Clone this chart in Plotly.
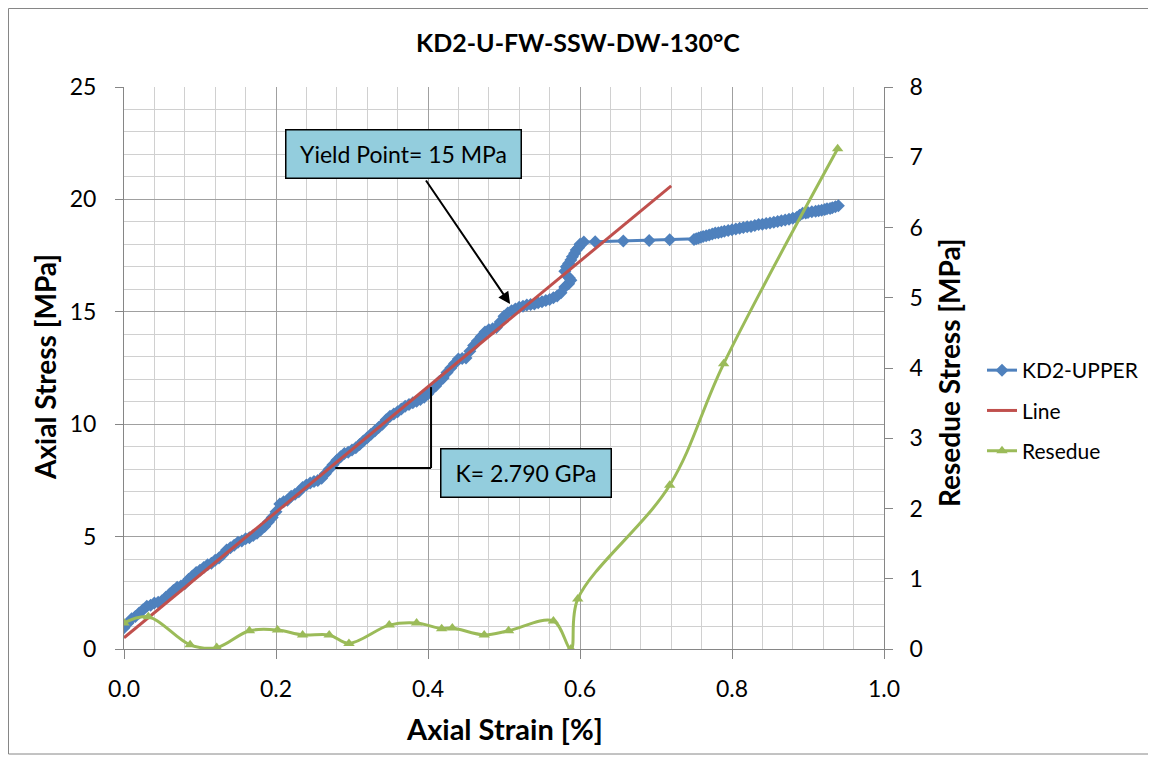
import plotly.graph_objects as go

# ---------------- data ----------------
upper_strain = [0.000, 0.005, 0.010, 0.015, 0.020, 0.025, 0.030, 0.035, 0.040, 0.045, 0.050,
                0.055, 0.060, 0.065, 0.070, 0.075, 0.080, 0.085, 0.090, 0.095, 0.100,
                0.105, 0.110, 0.115, 0.120, 0.125, 0.130, 0.135, 0.140, 0.145, 0.150,
                0.155, 0.160, 0.165, 0.170, 0.175, 0.180, 0.185, 0.190, 0.195, 0.200,
                0.205, 0.210, 0.215, 0.220, 0.225, 0.230, 0.235, 0.240, 0.245, 0.250,
                0.255, 0.260, 0.265, 0.270, 0.275, 0.280, 0.285, 0.290, 0.295, 0.300,
                0.305, 0.310, 0.315, 0.320, 0.325, 0.330, 0.335, 0.340, 0.345, 0.350,
                0.355, 0.360, 0.365, 0.370, 0.375, 0.380, 0.385, 0.390, 0.395, 0.400,
                0.405, 0.410, 0.415, 0.420, 0.425, 0.430, 0.435, 0.440, 0.445, 0.450,
                0.455, 0.460, 0.465, 0.470, 0.475, 0.480, 0.485, 0.490, 0.495, 0.500,
                0.505, 0.510, 0.515, 0.520, 0.525, 0.530, 0.535, 0.540, 0.545, 0.550,
                0.555, 0.560, 0.565, 0.570, 0.575, 0.580, 0.585, 0.588, 0.586, 0.583,
                0.580, 0.582, 0.585, 0.588, 0.590, 0.593, 0.595, 0.598, 0.600, 0.605,
                0.620, 0.657, 0.691, 0.718, 0.750, 0.753, 0.756, 0.759, 0.762, 0.766,
                0.770, 0.774, 0.778, 0.782, 0.786, 0.790, 0.795, 0.800, 0.805, 0.810,
                0.815, 0.820, 0.825, 0.830, 0.835, 0.840, 0.845, 0.850, 0.855, 0.860,
                0.865, 0.870, 0.875, 0.880, 0.885, 0.889, 0.893, 0.897, 0.900, 0.905,
                0.910, 0.914, 0.918, 0.922, 0.925, 0.929, 0.932, 0.936, 0.940]
upper_stress = [0.95, 1.15, 1.35, 1.45, 1.60, 1.75, 1.90, 1.95, 2.05, 2.08, 2.15,
                2.30, 2.45, 2.60, 2.75, 2.80, 2.90, 3.10, 3.25, 3.40, 3.50,
                3.62, 3.75, 3.82, 3.95, 4.05, 4.20, 4.40, 4.50, 4.62, 4.75,
                4.80, 4.90, 4.95, 5.05, 5.15, 5.30, 5.45, 5.65, 5.85, 6.10,
                6.45, 6.55, 6.62, 6.80, 6.88, 7.00, 7.18, 7.30, 7.38, 7.45,
                7.50, 7.60, 7.80, 8.00, 8.20, 8.40, 8.55, 8.70, 8.75, 8.85,
                8.95, 9.10, 9.25, 9.40, 9.55, 9.70, 9.85, 10.00, 10.20, 10.35,
                10.45, 10.55, 10.68, 10.80, 10.88, 10.95, 11.02, 11.10, 11.20, 11.35,
                11.55, 11.70, 11.90, 12.05, 12.30, 12.50, 12.70, 12.90, 12.92, 12.95,
                13.25, 13.50, 13.70, 13.90, 14.10, 14.20, 14.25, 14.30, 14.55, 14.80,
                14.95, 15.05, 15.12, 15.20, 15.25, 15.30, 15.32, 15.35, 15.40, 15.45,
                15.50, 15.55, 15.62, 15.70, 15.85, 16.10, 16.25, 16.40, 16.50, 16.60,
                16.80, 17.00, 17.15, 17.30, 17.45, 17.60, 17.75, 17.85, 18.00, 18.10,
                18.12, 18.15, 18.17, 18.20, 18.22, 18.25, 18.28, 18.32, 18.35, 18.38,
                18.42, 18.46, 18.50, 18.52, 18.55, 18.58, 18.62, 18.65, 18.68, 18.72,
                18.75, 18.78, 18.80, 18.84, 18.88, 18.90, 18.93, 18.95, 18.98, 19.02,
                19.05, 19.08, 19.12, 19.16, 19.20, 19.30, 19.38, 19.40, 19.42, 19.45,
                19.47, 19.50, 19.52, 19.55, 19.58, 19.60, 19.63, 19.67, 19.72]

line_strain = [0.0, 0.72]
line_stress = [0.5, 20.6]

resedue_strain = [0.000, 0.032, 0.087, 0.122, 0.165, 0.202, 0.235, 0.270, 0.296, 0.349,
                  0.385, 0.418, 0.432, 0.474, 0.506, 0.565, 0.588, 0.597, 0.718, 0.789,
                  0.939]
resedue_stress = [0.37, 0.46, 0.06, 0.02, 0.26, 0.27, 0.20, 0.20, 0.08, 0.34,
                  0.37, 0.29, 0.30, 0.20, 0.26, 0.40, 0.00, 0.71, 2.33, 4.06,
                  7.12]

x_ticks = [0.0, 0.2, 0.4, 0.6, 0.8, 1.0]
x_tick_labels = ["0.0", "0.2", "0.4", "0.6", "0.8", "1.0"]

FONT = "Lato"
BLUE = "#4F81BD"
RED = "#C0504D"
GREEN = "#9BBB59"
BOX = "#93CDDD"

# page is drawn with an 8px body offset; plot area in figure coordinates
PL, PT, PW, PH = 116, 79, 760, 562
W, H = 1156, 758


def px(fx):
    return (fx - 8 - PL) / PW


def py(fy):
    return (PT + PH - (fy - 8)) / PH


fig = go.Figure()
fig.add_trace(go.Scatter(
    x=upper_strain, y=upper_stress, name="KD2-UPPER", mode="lines+markers",
    line=dict(color=BLUE, width=3), marker=dict(symbol="diamond", size=10, color=BLUE),
    legendgroup="a"))
fig.add_trace(go.Scatter(
    x=line_strain, y=line_stress, name="Line", mode="lines",
    line=dict(color=RED, width=3), legendgroup="b"))
fig.add_trace(go.Scatter(
    x=resedue_strain, y=resedue_stress, name="Resedue", mode="lines+markers",
    line=dict(color=GREEN, width=3, shape="spline", smoothing=1.0),
    marker=dict(symbol="triangle-up", size=10, color=GREEN),
    yaxis="y2", legendgroup="c"))

MAJ = "#a0a0a0"
MIN = "#d0d0d0"
AX = "#868686"
tickfont = dict(family=FONT, size=23, color="#000000")

fig.update_layout(
    width=W, height=H,
    margin=dict(l=PL, r=W - PL - PW, t=PT, b=H - PT - PH, autoexpand=False),
    paper_bgcolor="white", plot_bgcolor="white",
    font=dict(family=FONT, color="#000000"),
    title=dict(text="<b>KD2-U-FW-SSW-DW-130°C</b>", x=570 / W, xref="container",
               y=1 - 35 / H, yref="container", xanchor="center", yanchor="middle",
               font=dict(family=FONT, size=25, color="#000000")),
    xaxis=dict(range=[0, 1], tickvals=x_ticks, ticktext=x_tick_labels,
               showgrid=True, gridcolor=MAJ, gridwidth=1, zeroline=False,
               showline=True, linecolor=AX, linewidth=1, mirror=False,
               ticks="outside", ticklen=9, tickcolor=AX, ticklabelstandoff=10,
               tickfont=tickfont,
               minor=dict(dtick=0.04, showgrid=True, gridcolor=MIN, gridwidth=1, ticks="")),
    yaxis=dict(range=[0, 25], dtick=5, showgrid=True, gridcolor=MAJ, gridwidth=1,
               zeroline=False, showline=True, linecolor=AX, linewidth=1,
               ticks="outside", ticklen=8, tickcolor=AX, ticklabelstandoff=14,
               tickfont=tickfont,
               minor=dict(dtick=1, showgrid=True, gridcolor=MIN, gridwidth=1, ticks="")),
    yaxis2=dict(range=[0, 8], dtick=1, overlaying="y", side="right", showgrid=False,
                zeroline=False, showline=True, linecolor=AX, linewidth=1,
                ticks="outside", ticklen=8, tickcolor=AX, ticklabelstandoff=12,
                tickfont=tickfont),
    legend=dict(x=px(982), y=py(350), xanchor="left", yanchor="top",
                font=dict(family=FONT, size=21, color="#000000"),
                tracegroupgap=10, bgcolor="rgba(0,0,0,0)", itemwidth=30),
    showlegend=True,
)

# axis titles
fig.add_annotation(text="<b>Axial Stress [MPa]</b>", xref="paper", yref="paper",
                   x=px(45), y=py(367), textangle=-90, xanchor="center", yanchor="middle",
                   showarrow=False, font=dict(family=FONT, size=28, color="#000"))
fig.add_annotation(text="<b>Resedue Stress [MPa]</b>", xref="paper", yref="paper",
                   x=px(949), y=py(373), textangle=-90, xanchor="center", yanchor="middle",
                   showarrow=False, font=dict(family=FONT, size=28, color="#000"))
fig.add_annotation(text="<b>Axial Strain [%]</b>", xref="paper", yref="paper",
                   x=px(504), y=py(728), xanchor="center", yanchor="middle",
                   showarrow=False, font=dict(family=FONT, size=29, color="#000"))

# yield point arrow and box
fig.add_annotation(x=0.508, y=15.35, ax=0.396, ay=20.91, xref="x", yref="y",
                   axref="x", ayref="y", showarrow=True, arrowhead=2, arrowsize=1.2,
                   arrowwidth=2, arrowcolor="#000", text="")
fig.add_annotation(text="Yield Point= 15 MPa", x=0.3678, y=22.02, xref="x", yref="y",
                   showarrow=False, bgcolor=BOX, bordercolor="#000", borderwidth=1.5,
                   borderpad=0, width=234, height=47,
                   font=dict(family=FONT, size=23, color="#000"))
fig.add_annotation(text="K= 2.790 GPa", x=0.529, y=7.83, xref="x", yref="y",
                   showarrow=False, bgcolor=BOX, bordercolor="#000", borderwidth=1.5,
                   borderpad=0, width=169, height=47,
                   font=dict(family=FONT, size=23, color="#000"))

# slope triangle
fig.add_shape(type="line", x0=0.278, y0=8.05, x1=0.404, y1=8.05, xref="x", yref="y",
              line=dict(color="#000", width=2))
fig.add_shape(type="line", x0=0.404, y0=8.05, x1=0.404, y1=11.65, xref="x", yref="y",
              line=dict(color="#000", width=2))

# chart-area border
fig.add_shape(type="rect", xref="paper", yref="paper",
              x0=(0.5 - PL) / PW, x1=(1144 - PL) / PW,
              y0=(PT + PH - 746) / PH, y1=(PT + PH - 0.5) / PH,
              line=dict(color=AX, width=1), fillcolor="rgba(0,0,0,0)", layer="below")

fig.write_html("out.html")
